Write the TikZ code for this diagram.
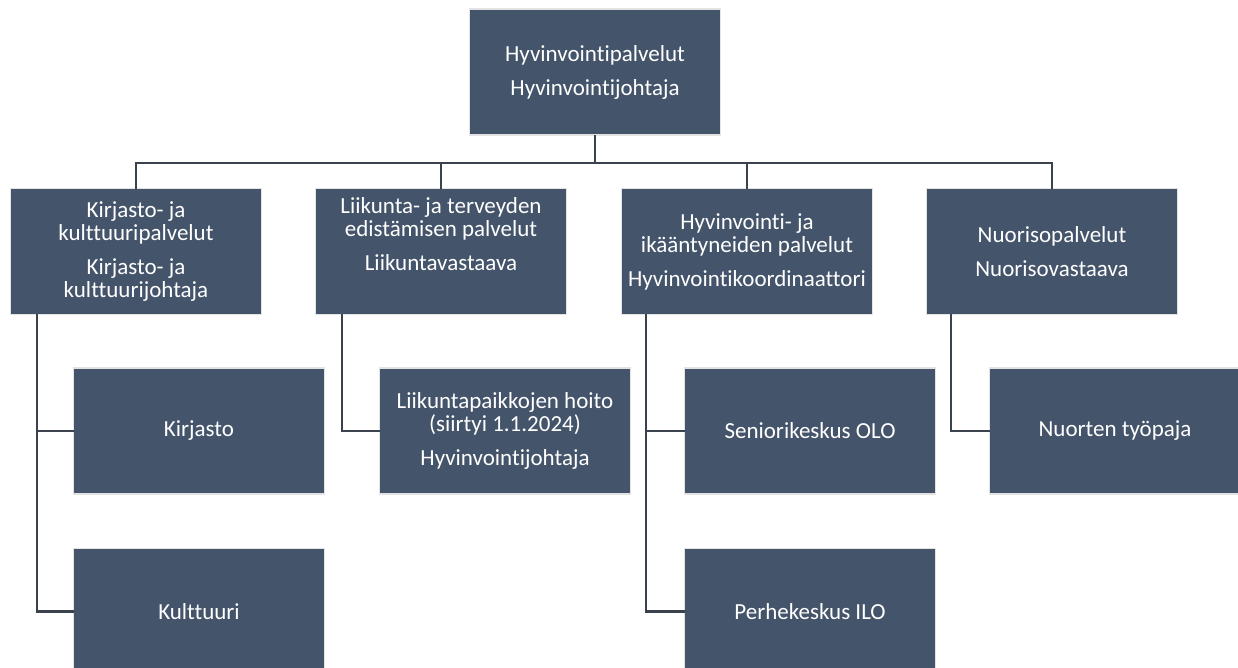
\documentclass[tikz,border=0pt]{standalone}
\usepackage{fontspec}
\setmainfont{Carlito}[Ligatures=NoCommon]
\definecolor{boxfill}{HTML}{44546A}
\definecolor{boxline}{HTML}{E3E3E3}
\definecolor{connline}{HTML}{3A424E}
\begin{document}
\begin{tikzpicture}[x=1pt, y=-1pt, line join=miter, line cap=rect,
  unit/.style={draw=boxline, line width=1.5pt, fill=boxfill, text=white,
    minimum width=251pt, minimum height=126pt, inner sep=0pt, align=center,
    font=\fontsize{23}{23}\selectfont},
  conn/.style={draw=connline, line width=2.2pt}]
\def\gap{11pt}
\def\rowb{251.5} \def\rowc{431} \def\rowd{611.5}
\useasboundingbox (0,0) rectangle (1238,667);
% ylin taso
\node[unit] (hyv) at (595,72) {Hyvinvointipalvelut\\[\gap]Hyvinvointijohtaja};
% palvelualueet
\node[unit] (kirku) at (136,\rowb) {Kirjasto- ja\\kulttuuripalvelut\\[\gap]Kirjasto- ja\\kulttuurijohtaja};
\node[unit] (liik) at (441,\rowb) {Liikunta- ja terveyden\\edistämisen palvelut\\[\gap]Liikuntavastaava\\[\gap]~};
\node[unit] (ikaa) at (747,\rowb) {Hyvinvointi- ja\\ikääntyneiden palvelut\\[\gap]Hyvinvointikoordinaattori};
\node[unit] (nuor) at (1052,\rowb) {Nuorisopalvelut\\[\gap]Nuorisovastaava};
% yksiköt
\node[unit] (kirj) at (199,\rowc) {Kirjasto};
\node[unit] (kult) at (199,\rowd) {Kulttuuri};
\node[unit] (lpai) at (505,\rowc) {Liikuntapaikkojen hoito\\(siirtyi 1.1.2024)\\[\gap]Hyvinvointijohtaja};
\node[unit] (seni) at (810,\rowc) {Seniorikeskus OLO};
\node[unit] (perh) at (810,\rowd) {Perhekeskus ILO};
\node[unit] (tyop) at (1115,\rowc) {Nuorten työpaja};
% yhteydet
\draw[conn] (hyv.south) -- ++(0,27) coordinate (hub);
\foreach \n in {kirku,liik,ikaa,nuor}
  \draw[conn] (hub) -| (\n.north);
\draw[conn] ([xshift=27pt]kirku.south west) |- (kult.west);
\draw[conn] ([xshift=27pt]kirku.south west |- kirj.west) -- (kirj.west);
\draw[conn] ([xshift=27pt]liik.south west) |- (lpai.west);
\draw[conn] ([xshift=25pt]ikaa.south west) |- (perh.west);
\draw[conn] ([xshift=25pt]ikaa.south west |- seni.west) -- (seni.west);
\draw[conn] ([xshift=25pt]nuor.south west) |- (tyop.west);
\end{tikzpicture}
\end{document}
